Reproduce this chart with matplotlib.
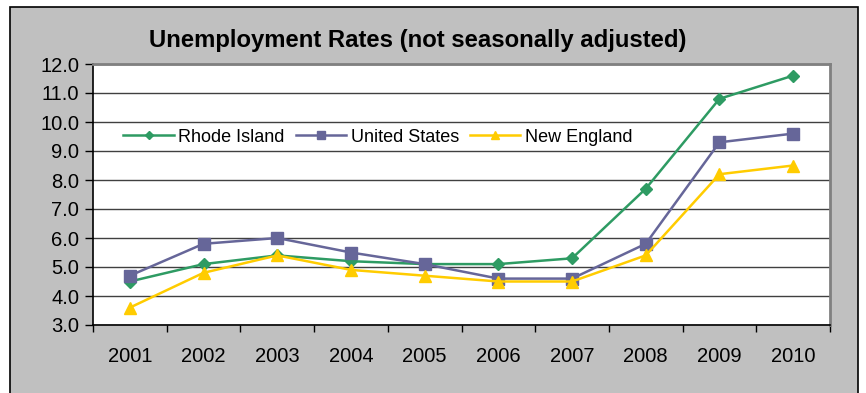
import numpy as np
import matplotlib.pyplot as plt
from matplotlib.patches import Rectangle

plt.rcParams['font.family'] = ['Liberation Sans', 'DejaVu Sans']

years = ['2001', '2002', '2003', '2004', '2005', '2006', '2007', '2008', '2009', '2010']
rhode_island = [4.5, 5.1, 5.4, 5.2, 5.1, 5.1, 5.3, 7.7, 10.8, 11.6]
united_states = [4.7, 5.8, 6.0, 5.5, 5.1, 4.6, 4.6, 5.8, 9.3, 9.6]
new_england = [3.6, 4.8, 5.4, 4.9, 4.7, 4.5, 4.5, 5.4, 8.2, 8.5]

W, H = 866, 393
fig = plt.figure(figsize=(W / 100, H / 100), dpi=100)
fig.patch.set_facecolor('white')

# gray chart area with black frame
fig.patches.append(Rectangle((10 / W, -0.05), 848 / W, 1.05 - 7 / H, transform=fig.transFigure,
                             facecolor='#C0C0C0', edgecolor='black', linewidth=1.2, zorder=-5))

ax = fig.add_axes([93 / W, 1 - 325 / H, (830 - 93) / W, (325 - 64) / H])
ax.set_facecolor('white')

x = np.arange(1, len(years) + 1)
ax.plot(x, rhode_island, color='#2E9B63', marker='D', markersize=6, linewidth=1.8, label='Rhode Island')
ax.plot(x, united_states, color='#666699', marker='s', markersize=8, linewidth=1.8, label='United States')
ax.plot(x, new_england, color='#FFCC00', marker='^', markersize=8, linewidth=1.8, label='New England')

ax.set_xlim(0.5, len(years) + 0.5)
ax.set_ylim(3, 12)
ax.set_yticks(np.arange(3, 12.1, 1))
ax.set_yticklabels([f'{v:.1f}' for v in np.arange(3, 12.1, 1)], fontsize=14.5)
ax.set_xticks(x)
ax.set_xticklabels(years, fontsize=14.5)
ax.set_xticks(np.arange(0.5, len(years) + 0.6, 1), minor=True)
ax.tick_params(axis='x', which='major', length=0, pad=16)
ax.tick_params(axis='x', which='minor', length=5, direction='out', width=1)
ax.tick_params(axis='y', length=6, direction='out', width=1, pad=4)

ax.grid(axis='y', color='#404040', linewidth=1)
ax.set_axisbelow(True)
for side in ['left', 'bottom']:
    ax.spines[side].set_color('black')
    ax.spines[side].set_linewidth(1.2)
for side in ['top', 'right']:
    ax.spines[side].set_color('#808080')
    ax.spines[side].set_linewidth(2)

fig.text(418 / W, 1 - 40 / H, 'Unemployment Rates (not seasonally adjusted)',
         ha='center', va='center', fontsize=17.2, fontweight='bold')

ax.legend(loc='center left', bbox_to_anchor=(116 / W, 1 - 137 / H), bbox_transform=fig.transFigure,
          ncol=3, frameon=False, fontsize=13, handlelength=2.8, columnspacing=0.6,
          handletextpad=0.25, borderaxespad=0, markerscale=0.7)

fig.savefig('out.png', dpi=100, facecolor=fig.get_facecolor())
